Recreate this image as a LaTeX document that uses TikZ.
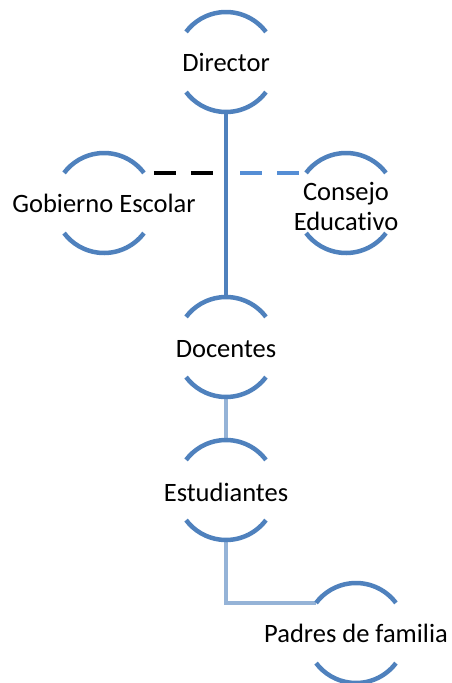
\documentclass[tikz,border=0pt]{standalone}
\usepackage{fontspec}
\setmainfont{Carlito}[Ligatures=NoCommon]
\definecolor{acc}{HTML}{4F81BD}
\definecolor{accl}{HTML}{95B3D7}
\definecolor{dashblue}{HTML}{558ED5}
\newcommand\drawrims[1]{%
  \draw[rim] (#1.37) arc[start angle=37,end angle=143,radius=50];
  \draw[rim] (#1.-37) arc[start angle=-37,end angle=-143,radius=50];}
\begin{document}
\begin{tikzpicture}[x=1pt,y=1pt,
  unit/.style={circle,minimum size=100pt,inner sep=0pt,outer sep=0pt},
  lbl/.style={font=\fontsize{26.5}{30}\selectfont,align=center,inner sep=0pt},
  rim/.style={draw=acc,line width=4.5pt},
  mainlink/.style={draw=acc,line width=4.5pt},
  sublink/.style={draw=accl,line width=4.5pt},
  blackdash/.style={draw=black,line width=4.5pt,dash pattern=on 22pt off 15pt,dash phase=27pt},
  bluedash/.style={draw=dashblue,line width=4.5pt,dash pattern=on 22pt off 15pt,dash phase=23pt}]
\useasboundingbox (0,0) rectangle (451,-683);
\node[unit] (dir) at (226,-62) {};
\node[unit] (gob) at (104,-203) {};
\node[unit] (con) at (346,-203) {};
\node[unit] (doc) at (226,-347) {};
\node[unit] (est) at (226,-490) {};
\node[unit] (pad) at (356,-633) {};
\coordinate (j) at (dir.south |- gob.37);
% connectors
\draw[mainlink] (dir.south) -- (doc.north);
\draw[blackdash] (gob.37) -- (j);
\draw[bluedash] (j) -- (con.143);
\draw[sublink] (doc.south) -- (est.north);
\draw[sublink,line join=miter] (est.south) |- (pad.143);
% rims
\drawrims{dir}
\drawrims{gob}
\drawrims{con}
\drawrims{doc}
\drawrims{est}
\drawrims{pad}
% labels
\node[lbl] (dirt) at (dir) {Director};
\node[lbl] (gobt) at (gob) {Gobierno Escolar};
\node[lbl] (cont) at ([yshift=-3pt]con.center) {Consejo\\Educativo};
\node[lbl] (doct) at ([yshift=-2pt]doc.center) {Docentes};
\node[lbl] (estt) at ([yshift=-2pt]est.center) {Estudiantes};
\node[lbl] (padt) at (pad) {Padres de familia};
\end{tikzpicture}
\end{document}
